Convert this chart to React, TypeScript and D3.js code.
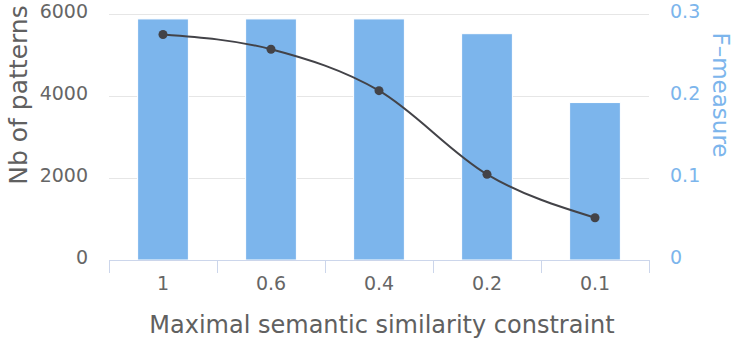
import React, { useRef, useEffect } from 'react';
import * as d3 from 'd3';

const categories = ['1', '0.6', '0.4', '0.2', '0.1'];
const fMeasure = [0.294, 0.294, 0.294, 0.276, 0.192];
const nbPatterns = [5500, 5140, 4130, 2090, 1030];
const leftTicks = [0, 2000, 4000, 6000];
const rightTicks = [0, 0.1, 0.2, 0.3];

const BAR_COLOR = '#7cb5ec';
const LINE_COLOR = '#434348';
const FONT = '"DejaVu Sans", "Lucida Grande", Verdana, sans-serif';

export default function App() {
  const svgRef = useRef<SVGSVGElement>(null);

  useEffect(() => {
    if (!svgRef.current) return;
    const width = 741;
    const height = 343;
    const plot = { left: 109, right: 649, top: 14, bottom: 260 };

    const svg = d3.select(svgRef.current);
    svg.selectAll('*').remove();
    svg.attr('width', width).attr('height', height);

    const x = d3
      .scaleBand<string>()
      .domain(categories)
      .range([plot.left, plot.right])
      .padding(0);
    const yLeft = d3.scaleLinear().domain([0, 6000]).range([plot.bottom, plot.top]);
    const yRight = d3.scaleLinear().domain([0, 0.3]).range([plot.bottom, plot.top]);

    // grid
    svg
      .append('g')
      .selectAll('line')
      .data(leftTicks.filter((t) => t > 0))
      .join('line')
      .attr('x1', plot.left)
      .attr('x2', plot.right)
      .attr('y1', (d) => Math.round(yLeft(d)) + 0.5)
      .attr('y2', (d) => Math.round(yLeft(d)) + 0.5)
      .attr('stroke', '#e6e6e6')
      .attr('stroke-width', 1);

    // bars (F-measure, right axis)
    const barW = x.bandwidth() * 0.47;
    svg
      .append('g')
      .selectAll('rect')
      .data(categories)
      .join('rect')
      .attr('x', (c) => (x(c) as number) + (x.bandwidth() - barW) / 2)
      .attr('y', (c, i) => yRight(fMeasure[i]))
      .attr('width', barW)
      .attr('height', (c, i) => plot.bottom - yRight(fMeasure[i]))
      .attr('fill', BAR_COLOR)
      .attr('stroke', '#ffffff')
      .attr('stroke-width', 1);

    // x axis line and ticks
    const xAxis = svg.append('g');
    xAxis
      .append('line')
      .attr('x1', plot.left)
      .attr('x2', plot.right)
      .attr('y1', plot.bottom + 0.5)
      .attr('y2', plot.bottom + 0.5)
      .attr('stroke', '#ccd6eb');
    const bounds = categories.map((c) => x(c) as number).concat([plot.right]);
    xAxis
      .selectAll('line.tick')
      .data(bounds)
      .join('line')
      .attr('class', 'tick')
      .attr('x1', (d) => Math.round(d) + 0.5)
      .attr('x2', (d) => Math.round(d) + 0.5)
      .attr('y1', plot.bottom)
      .attr('y2', plot.bottom + 13)
      .attr('stroke', '#ccd6eb');
    xAxis
      .selectAll('text')
      .data(categories)
      .join('text')
      .attr('x', (c) => (x(c) as number) + x.bandwidth() / 2)
      .attr('y', 290)
      .attr('text-anchor', 'middle')
      .attr('fill', '#666666')
      .style('font-family', FONT)
      .style('font-size', '19px')
      .text((c) => c);

    // left tick labels
    svg
      .append('g')
      .selectAll('text')
      .data(leftTicks)
      .join('text')
      .attr('x', 88)
      .attr('y', (d) => yLeft(d) + 4)
      .attr('text-anchor', 'end')
      .attr('fill', '#666666')
      .style('font-family', FONT)
      .style('font-size', '19px')
      .text((d) => d3.format('d')(d));

    // right tick labels
    svg
      .append('g')
      .selectAll('text')
      .data(rightTicks)
      .join('text')
      .attr('x', 670)
      .attr('y', (d) => yRight(d) + 4)
      .attr('text-anchor', 'start')
      .attr('fill', BAR_COLOR)
      .style('font-family', FONT)
      .style('font-size', '19px')
      .text((d) => (d === 0 ? '0' : d3.format('.1f')(d)));

    // Nb of patterns line (left axis)
    const pts: [number, number][] = categories.map((c, i) => [
      (x(c) as number) + x.bandwidth() / 2,
      yLeft(nbPatterns[i]),
    ]);
    svg
      .append('path')
      .attr('d', d3.line().curve(d3.curveMonotoneX)(pts))
      .attr('fill', 'none')
      .attr('stroke', LINE_COLOR)
      .attr('stroke-width', 2);
    svg
      .append('g')
      .selectAll('circle')
      .data(pts)
      .join('circle')
      .attr('cx', (d) => d[0])
      .attr('cy', (d) => d[1])
      .attr('r', 4.5)
      .attr('fill', LINE_COLOR);

    // axis titles
    svg
      .append('text')
      .attr('transform', 'translate(27,95) rotate(-90)')
      .attr('text-anchor', 'middle')
      .attr('fill', '#606060')
      .style('font-family', FONT)
      .style('font-size', '25px')
      .text('Nb of patterns');
    svg
      .append('text')
      .attr('transform', 'translate(713,95) rotate(90)')
      .attr('text-anchor', 'middle')
      .attr('fill', BAR_COLOR)
      .style('font-family', FONT)
      .style('font-size', '23px')
      .text('F–measure');
    svg
      .append('text')
      .attr('x', 382)
      .attr('y', 333)
      .attr('text-anchor', 'middle')
      .attr('fill', '#606060')
      .style('font-family', FONT)
      .style('font-size', '24px')
      .text('Maximal semantic similarity constraint');
  }, []);

  return (
    <div style={{ position: 'absolute', left: 0, top: 0, background: '#fff' }}>
      <svg ref={svgRef} style={{ display: 'block' }} />
    </div>
  );
}
